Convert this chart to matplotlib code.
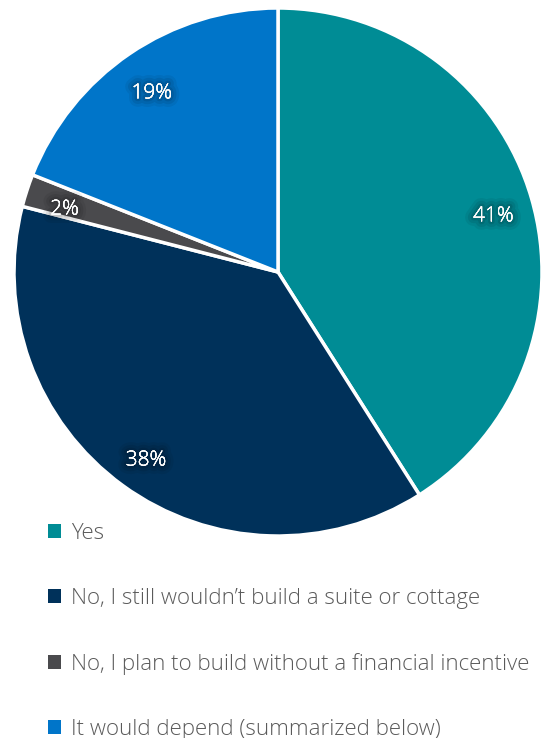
import matplotlib
matplotlib.use("Agg")
import matplotlib.pyplot as plt
import matplotlib.patheffects as pe

labels = [
    "Yes",
    "No, I still wouldn\u2019t build a suite or cottage",
    "No, I plan to build without a financial incentive",
    "It would depend (summarized below)",
]
values = [41, 38, 2, 19]
colors = ["#008C95", "#00315A", "#4A4A4D", "#0075C9"]

FONT = ["Open Sans", "DejaVu Sans"]

W, H = 548, 738
fig = plt.figure(figsize=(W / 100, H / 100), dpi=100)
ax = fig.add_axes([0, 0, 1, 1])

wedges, texts, autotexts = ax.pie(
    values,
    colors=colors,
    startangle=90,
    counterclock=False,
    center=(278, H - 272),
    radius=264,
    autopct="%d%%",
    pctdistance=0.85,
    wedgeprops=dict(edgecolor="white", linewidth=2.5),
    textprops=dict(color="white", fontsize=15, family=FONT, fontweight="light"),
    frame=True,
)
ax.set_xlim(0, W)
ax.set_ylim(0, H)
ax.set_aspect("equal")
ax.axis("off")

# nudge percentage labels slightly down and give them a soft dark halo
for t in autotexts:
    x, y = t.get_position()
    t.set_position((x, y - 7))
    t.set_path_effects([
        pe.withStroke(linewidth=12, foreground=(0, 0, 0, 0.06)),
        pe.withStroke(linewidth=8, foreground=(0, 0, 0, 0.08)),
        pe.withStroke(linewidth=4, foreground=(0, 0, 0, 0.10)),
        pe.Normal(),
    ])

leg = fig.legend(
    wedges, labels,
    loc="upper left",
    bbox_to_anchor=(30 / W, 1 - 505 / H),
    frameon=False,
    labelspacing=1.98,
    handlelength=0.6,
    handleheight=0.6,
    handletextpad=0.45,
    borderpad=0.3,
    prop=dict(family=FONT, weight="light", size=16),
)
for t in leg.get_texts():
    t.set_color("#5A5A5A")
for h in leg.legend_handles:
    h.set_edgecolor("none")

fig.savefig("out.png", dpi=100)
